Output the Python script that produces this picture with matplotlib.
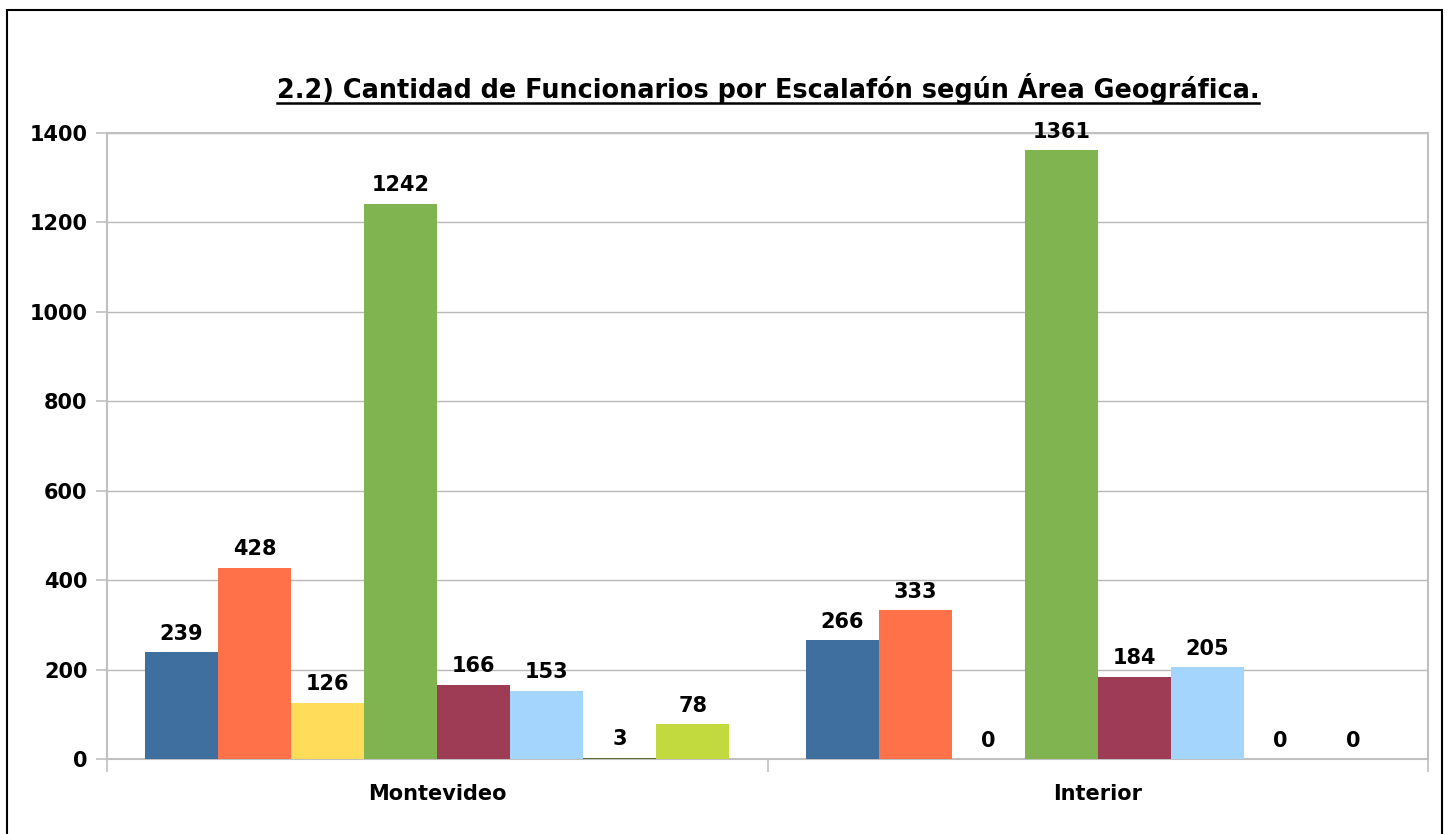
import matplotlib
matplotlib.use("Agg")
import matplotlib.pyplot as plt
from matplotlib.patches import Rectangle
from matplotlib.lines import Line2D
import numpy as np

plt.rcParams['font.family'] = ['DejaVu Sans']
plt.rcParams['font.weight'] = 'bold'

# data
categories = ["Montevideo", "Interior"]
series_values = [
    [239, 266],
    [428, 333],
    [126, 0],
    [1242, 1361],
    [166, 184],
    [153, 205],
    [3, 0],
    [78, 0],
]
colors = ["#3F6F9F", "#FF7148", "#FFDC59", "#80B451",
          "#9E3C55", "#A3D5FD", "#5B6B35", "#C3DA3E"]
y_ticks = [0, 200, 400, 600, 800, 1000, 1200, 1400]
title = "2.2) Cantidad de Funcionarios por Escalafón según Área Geográfica."

W, H = 1450, 834
fig = plt.figure(figsize=(W / 100, H / 100), dpi=100)
fig.patch.set_facecolor("white")

# outer border (bottom edge runs off the image)
fig.patches.append(Rectangle((7 / W, -0.05), (1442 - 7) / W, 1.05 - 10 / H,
                             transform=fig.transFigure, fill=False,
                             edgecolor="black", linewidth=1.5))

ax = fig.add_axes([107 / W, 1 - 759 / H, (1428 - 107) / W, (759 - 133) / H])

n = len(series_values)
bw = 0.1106
x = np.arange(len(categories))
for i, vals in enumerate(series_values):
    pos = x - bw * n / 2 + bw * (i + 0.5)
    bars = ax.bar(pos, vals, width=bw, color=colors[i], linewidth=0, zorder=3)
    for b, v in zip(bars, vals):
        ax.annotate(str(v), (b.get_x() + b.get_width() / 2, v),
                    xytext=(0, 6), textcoords="offset points",
                    ha="center", va="bottom", fontsize=15, fontweight="bold")

ax.set_xlim(-0.5, 1.5)
ax.set_ylim(0, 1400)
ax.set_yticks(y_ticks)
ax.set_yticklabels([str(t) for t in y_ticks], fontsize=15, fontweight="bold")
ax.set_xticks(x)
ax.set_xticklabels(categories, fontsize=15, fontweight="bold")
ax.set_xticks([-0.5, 0.5, 1.5], minor=True)
ax.tick_params(axis="x", which="major", length=0, pad=18)
ax.tick_params(axis="x", which="minor", length=9, color="#C0C0C0", width=1.2)
ax.tick_params(axis="y", length=8, color="#C0C0C0", width=1.2, pad=6)

ax.grid(axis="y", color="#B8B8B8", linewidth=1, zorder=0)
for s in ax.spines.values():
    s.set_color("#C0C0C0")
    s.set_linewidth(1.5)

# underlined title
t = fig.text(768 / W, 1 - 88 / H, title, ha="center", va="center",
             fontsize=18.4, fontweight="bold")
fig.canvas.draw()
bb = t.get_window_extent().transformed(fig.transFigure.inverted())
fig.lines.append(Line2D([bb.x0, bb.x1], [bb.y0 + 1 / H, bb.y0 + 1 / H],
                        transform=fig.transFigure, color="black", linewidth=1.8))

fig.savefig("out.png", dpi=100)
